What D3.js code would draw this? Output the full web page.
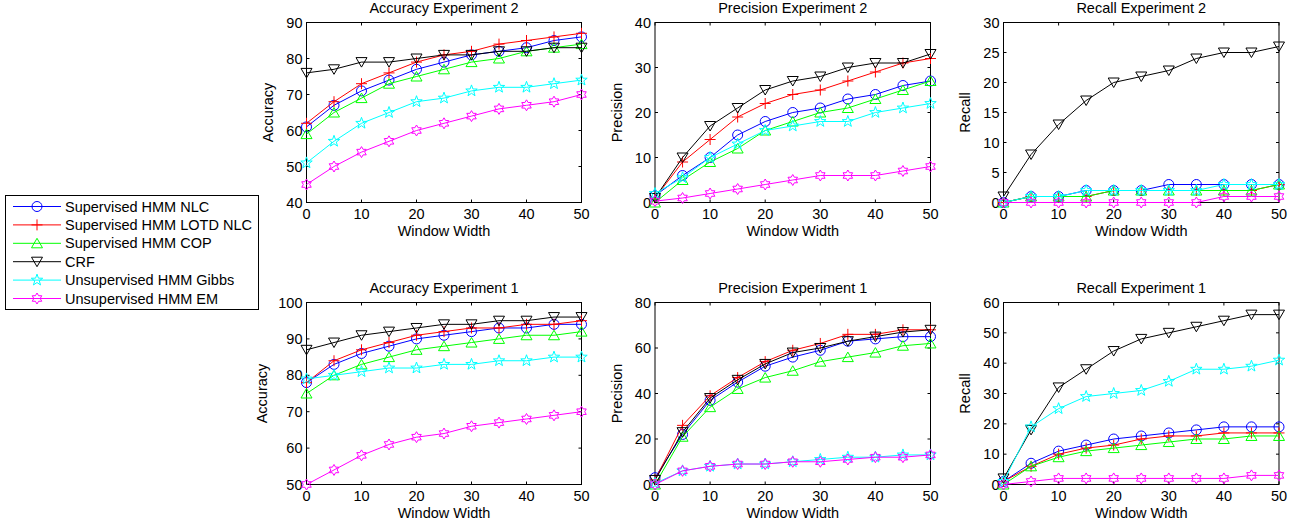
<!DOCTYPE html>
<html>
<head>
<meta charset="utf-8">
<script src="https://cdn.jsdelivr.net/npm/d3@7"></script>
<style>
  body { margin: 0; background: #fff; }
  svg { font-family: "Liberation Sans", Arial, sans-serif; }
</style>
</head>
<body>
<svg id="chart" width="1301" height="523"></svg>
<script>
// DATA
const windowWidths = [0, 5, 10, 15, 20, 25, 30, 35, 40, 45, 50];

const seriesNames = [
  "Supervised HMM NLC",
  "Supervised HMM LOTD NLC",
  "Supervised HMM COP",
  "CRF",
  "Unsupervised HMM Gibbs",
  "Unsupervised HMM EM"
];
const seriesColors = ["#0000ff", "#ff0000", "#00ff00", "#000000", "#00ffff", "#ff00ff"];
const seriesMarkers = ["circle", "plus", "triangleUp", "triangleDown", "pentagram", "hexagram"];

// rows follow seriesNames order
const accuracyExp2 = [
  [61, 67, 71, 74, 77, 79, 81, 82, 83, 85, 86],
  [62, 68, 73, 76, 79, 81, 82, 84, 85, 86, 87],
  [59, 65, 69, 73, 75, 77, 79, 80, 82, 83, 84],
  [76, 77, 79, 79, 80, 81, 81, 82, 82, 83, 83],
  [51, 57, 62, 65, 68, 69, 71, 72, 72, 73, 74],
  [45, 50, 54, 57, 60, 62, 64, 66, 67, 68, 70]
];
const precisionExp2 = [
  [1.5, 6, 10, 15, 18, 20, 21, 23, 24, 26, 27],
  [1, 9, 14, 19, 22, 24, 25, 27, 29, 31, 32],
  [0, 5, 9, 12, 16, 18, 20, 21, 23, 25, 27],
  [1, 10, 17, 21, 25, 27, 28, 30, 31, 31, 33],
  [2, 5.5, 10, 13, 16, 17, 18, 18, 20, 21, 22],
  [0.3, 1, 2, 3, 4, 5, 6, 6, 6, 7, 8]
];
const recallExp2 = [
  [0, 1, 1, 2, 2, 2, 3, 3, 3, 3, 3],
  [0, 1, 1, 1, 2, 2, 2, 2, 2, 2, 3],
  [0, 1, 1, 1, 2, 2, 2, 2, 2, 2, 3],
  [1, 8, 13, 17, 20, 21, 22, 24, 25, 25, 26],
  [0, 1, 1, 2, 2, 2, 2, 2, 3, 3, 3],
  [0, 0, 0, 0, 0, 0, 0, 0, 1, 1, 1]
];
const accuracyExp1 = [
  [78, 83, 86, 88, 90, 91, 92, 93, 93, 94, 94],
  [78, 84, 87, 89, 91, 92, 93, 93, 94, 94, 95],
  [75, 80, 83, 85, 87, 88, 89, 90, 91, 91, 92],
  [87, 89, 91, 92, 93, 94, 94, 95, 95, 96, 96],
  [79, 80, 81, 82, 82, 83, 83, 84, 84, 85, 85],
  [50, 54, 58, 61, 63, 64, 66, 67, 68, 69, 70]
];
const precisionExp1 = [
  [3, 22, 37, 45, 52, 56, 59, 63, 64, 65, 65],
  [2, 26, 39, 47, 54, 59, 62, 66, 66, 68, 68],
  [0, 21, 34, 42, 47, 50, 54, 56, 58, 61, 62],
  [2, 23, 38, 46, 53, 58, 60, 63, 65, 67, 68],
  [0.5, 6, 8, 9, 9, 10, 11, 12, 12, 13, 13],
  [0, 6, 8, 9, 9, 10, 10, 11, 12, 12, 13]
];
const recallExp1 = [
  [1, 7, 11, 13, 15, 16, 17, 18, 19, 19, 19],
  [1, 6, 10, 12, 13, 15, 16, 16, 17, 17, 17],
  [0, 6, 9, 11, 12, 13, 14, 15, 15, 16, 16],
  [2, 18, 32, 38, 44, 48, 50, 52, 54, 56, 56],
  [1, 19, 25, 29, 30, 31, 34, 38, 38, 39, 41],
  [0, 1, 2, 2, 2, 2, 2, 2, 2, 3, 3]
];

const panels = [
  { title: "Accuracy Experiment 2", ylabel: "Accuracy", data: accuracyExp2, domain: [40, 90], ticks: d3.range(40, 91, 10),
    box: { left: 306.5, right: 581.5, top: 22.5, bottom: 202.5 }, ylabelX: 268 },
  { title: "Precision Experiment 2", ylabel: "Precision", data: precisionExp2, domain: [0, 40], ticks: d3.range(0, 41, 10),
    box: { left: 655, right: 930.5, top: 22.5, bottom: 202.5 }, ylabelX: 617 },
  { title: "Recall Experiment 2", ylabel: "Recall", data: recallExp2, domain: [0, 30], ticks: d3.range(0, 31, 5),
    box: { left: 1003.5, right: 1279, top: 22.5, bottom: 202.5 }, ylabelX: 965 },
  { title: "Accuracy Experiment 1", ylabel: "Accuracy", data: accuracyExp1, domain: [50, 100], ticks: d3.range(50, 101, 10),
    box: { left: 306.5, right: 581.5, top: 302.5, bottom: 484.5 }, ylabelX: 262 },
  { title: "Precision Experiment 1", ylabel: "Precision", data: precisionExp1, domain: [0, 80], ticks: d3.range(0, 81, 20),
    box: { left: 655, right: 930.5, top: 302.5, bottom: 484.5 }, ylabelX: 617 },
  { title: "Recall Experiment 1", ylabel: "Recall", data: recallExp1, domain: [0, 60], ticks: d3.range(0, 61, 10),
    box: { left: 1003.5, right: 1279, top: 302.5, bottom: 484.5 }, ylabelX: 965 }
];

const svg = d3.select("#chart");
const fontSize = 14.5;

// marker shapes, matlab style (unfilled)
function starPath(points, outer, inner) {
  const pts = [];
  for (let i = 0; i < points * 2; i++) {
    const r = i % 2 === 0 ? outer : inner;
    const a = -Math.PI / 2 + (i * Math.PI) / points;
    pts.push([r * Math.cos(a), r * Math.sin(a)]);
  }
  return "M" + pts.map((p) => p.join(",")).join("L") + "Z";
}

function markerPath(kind) {
  switch (kind) {
    case "circle":
      return d3.symbol(d3.symbolCircle, Math.PI * 5 * 5)();
    case "plus":
      return "M-5.5,0L5.5,0M0,-5.5L0,5.5";
    case "triangleUp":
      return "M0,-5L5.5,4.5L-5.5,4.5Z";
    case "triangleDown":
      return "M0,5L5.5,-4.5L-5.5,-4.5Z";
    case "pentagram":
      return starPath(5, 6, 2.4);
    case "hexagram":
      return starPath(6, 5.5, 3.2);
  }
}

panels.forEach((p) => {
  const g = svg.append("g");
  const x = d3.scaleLinear().domain([0, 50]).range([p.box.left, p.box.right]);
  const y = d3.scaleLinear().domain(p.domain).range([p.box.bottom, p.box.top]);

  // box
  g.append("rect")
    .attr("x", p.box.left)
    .attr("y", p.box.top)
    .attr("width", p.box.right - p.box.left)
    .attr("height", p.box.bottom - p.box.top)
    .attr("fill", "#fff")
    .attr("stroke", "#000")
    .attr("stroke-width", 1);

  // inward ticks on all four sides
  const tl = 3;
  const xt = d3.range(0, 51, 10);
  xt.forEach((v) => {
    g.append("line").attr("x1", x(v)).attr("x2", x(v)).attr("y1", p.box.bottom).attr("y2", p.box.bottom - tl).attr("stroke", "#000");
    g.append("line").attr("x1", x(v)).attr("x2", x(v)).attr("y1", p.box.top).attr("y2", p.box.top + tl).attr("stroke", "#000");
    g.append("text")
      .attr("x", x(v))
      .attr("y", p.box.bottom + 16)
      .attr("text-anchor", "middle")
      .attr("font-size", fontSize)
      .text(v);
  });
  p.ticks.forEach((v) => {
    g.append("line").attr("x1", p.box.left).attr("x2", p.box.left + tl).attr("y1", y(v)).attr("y2", y(v)).attr("stroke", "#000");
    g.append("line").attr("x1", p.box.right).attr("x2", p.box.right - tl).attr("y1", y(v)).attr("y2", y(v)).attr("stroke", "#000");
    g.append("text")
      .attr("x", p.box.left - 4)
      .attr("y", y(v) + 5)
      .attr("text-anchor", "end")
      .attr("font-size", fontSize)
      .text(v);
  });

  // titles and labels
  g.append("text")
    .attr("x", (p.box.left + p.box.right) / 2)
    .attr("y", p.box.top - 9.5)
    .attr("text-anchor", "middle")
    .attr("font-size", fontSize)
    .text(p.title);
  g.append("text")
    .attr("x", (p.box.left + p.box.right) / 2)
    .attr("y", p.box.bottom + 33)
    .attr("text-anchor", "middle")
    .attr("font-size", fontSize)
    .text("Window Width");
  g.append("text")
    .attr("transform", `translate(${p.ylabelX + 5},${(p.box.top + p.box.bottom) / 2}) rotate(-90)`)
    .attr("text-anchor", "middle")
    .attr("font-size", fontSize)
    .text(p.ylabel);

  const line = d3.line()
    .x((d, i) => x(windowWidths[i]))
    .y((d) => y(d));

  p.data.forEach((vals, si) => {
    const s = g.append("g");
    s.append("path")
      .attr("d", line(vals))
      .attr("fill", "none")
      .attr("stroke", seriesColors[si])
      .attr("stroke-width", 1);
    s.selectAll("path.mk")
      .data(vals)
      .join("path")
      .attr("class", "mk")
      .attr("transform", (d, i) => `translate(${x(windowWidths[i])},${y(d)})`)
      .attr("d", markerPath(seriesMarkers[si]))
      .attr("fill", "none")
      .attr("stroke", seriesColors[si])
      .attr("stroke-width", 1);
  });
});

// LEGEND
const legend = svg.append("g");
legend.append("rect")
  .attr("x", 5.5)
  .attr("y", 195.5)
  .attr("width", 253)
  .attr("height", 114)
  .attr("fill", "#fff")
  .attr("stroke", "#000");

const legendY = d3.scalePoint().domain(seriesNames).range([206.5, 298.5]);
seriesNames.forEach((name, si) => {
  const yy = legendY(name);
  legend.append("line")
    .attr("x1", 13).attr("x2", 61).attr("y1", yy).attr("y2", yy)
    .attr("stroke", seriesColors[si]);
  legend.append("path")
    .attr("transform", `translate(37,${yy})`)
    .attr("d", markerPath(seriesMarkers[si]))
    .attr("fill", "none")
    .attr("stroke", seriesColors[si]);
  legend.append("text")
    .attr("x", 65)
    .attr("y", yy + 5)
    .attr("font-size", fontSize)
    .text(name);
});
</script>
</body>
</html>
